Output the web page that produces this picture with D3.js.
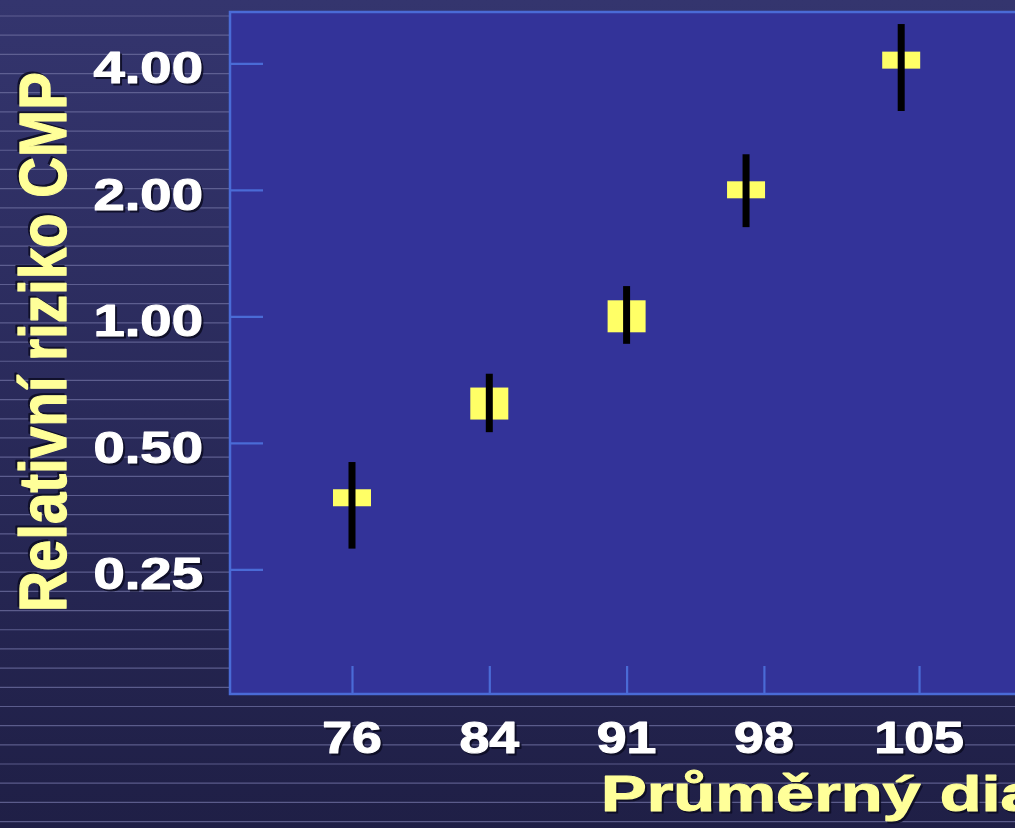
<!DOCTYPE html>
<html>
<head>
<meta charset="utf-8">
<script src="https://cdn.jsdelivr.net/npm/d3@7/dist/d3.min.js"></script>
<style>
  html, body { margin: 0; padding: 0; background: #26264f; overflow: hidden; }
  svg { display: block; }
  text { font-family: "Liberation Sans", Arial, sans-serif; font-weight: bold; }
</style>
</head>
<body>
<svg id="chart" width="1015" height="828"></svg>
<script>
// Waist-circumference groups (cm) and relative stroke risk with 95% CI
const categories = ["76", "84", "91", "98", "105"];
const tickSlot   = [0, 1, 2, 3, 4.13];      // axis slot of each group label
const pointSlot  = [0, 1, 2, 2.87, 4];      // axis slot of each estimate
const relRisk    = [0.37, 0.62, 1.00, 2.00, 4.07];
const ciLow      = [0.28, 0.53, 0.86, 1.63, 3.08];
const ciHigh     = [0.45, 0.73, 1.18, 2.43, 4.96];
const yTicks      = [0.25, 0.5, 1, 2, 4];
const yTickLabels = ["0.25", "0.50", "1.00", "2.00", "4.00"];
const largeGroup  = [false, true, true, false, false];

const W = 1015, H = 828;
const plot = { left: 230, top: 12, bottom: 694, right: W + 20 };
const svg = d3.select("#chart");

// slide background
const defs = svg.append("defs");
const grad = defs.append("linearGradient").attr("id", "bg")
  .attr("x1", 0).attr("y1", 0).attr("x2", 0).attr("y2", 1);
grad.append("stop").attr("offset", "0%").attr("stop-color", "#34356e");
grad.append("stop").attr("offset", "100%").attr("stop-color", "#1f1f46");
svg.append("rect").attr("width", W).attr("height", H).attr("fill", "url(#bg)");

svg.append("g").selectAll("line")
  .data(d3.range(16, H, 19.18))
  .join("line")
  .attr("x1", 0).attr("x2", W)
  .attr("y1", d => d).attr("y2", d => d)
  .attr("stroke", "#6a6b9c").attr("stroke-width", 1.2).attr("opacity", 0.8);

// scales
const x = d3.scaleLinear().domain([0, 4]).range([352, 901.2]);
const y = d3.scaleLog().base(2).domain([0.25, 4]).range([569.3, 63.3]);

// plot area
svg.append("rect")
  .attr("x", plot.left).attr("y", plot.top)
  .attr("width", plot.right - plot.left).attr("height", plot.bottom - plot.top)
  .attr("fill", "#333399").attr("stroke", "#4a6bd6").attr("stroke-width", 2.5);

const axisColor = "#4a6bd6";

// y axis ticks (inside)
const yAxisG = svg.append("g").attr("transform", `translate(${plot.left},0)`)
  .call(d3.axisLeft(y).tickValues(yTicks).tickSize(-33).tickFormat(""));
yAxisG.select(".domain").remove();
yAxisG.selectAll(".tick line").attr("stroke", axisColor).attr("stroke-width", 2.2);

// x axis ticks (inside)
const xAxisG = svg.append("g").attr("transform", `translate(0,${plot.bottom})`)
  .call(d3.axisBottom(x).tickValues(tickSlot).tickSize(-28).tickFormat(""));
xAxisG.select(".domain").remove();
xAxisG.selectAll(".tick line").attr("stroke", axisColor).attr("stroke-width", 2.2);

// heavy text with a soft drop shadow, stretched horizontally
function label(parent, opts) {
  const g = parent.append("g")
    .attr("transform", `translate(${opts.x},${opts.y}) scale(${opts.sx},1)` + (opts.rotate ? ` rotate(${opts.rotate})` : ""));
  const shadowDx = opts.rotate ? 2 : 2 / opts.sx;
  const shadowDy = opts.rotate ? -2 / opts.sx : 2;
  [["#0c0c22", shadowDx, shadowDy], [opts.fill, 0, 0]].forEach(([c, dx, dy]) => {
    g.append("text")
      .attr("x", dx).attr("y", dy)
      .attr("text-anchor", opts.anchor || "start")
      .attr("font-size", opts.size)
      .attr("fill", c)
      .attr("stroke", c)
      .attr("stroke-width", 1.1)
      .attr("stroke-linejoin", "round")
      .attr("opacity", c === opts.fill ? 1 : 0.85)
      .text(opts.text);
  });
}

// y tick labels
yTicks.forEach((v, i) => label(svg, {
  x: 203, y: y(v) + 20, sx: 1.28, text: yTickLabels[i], size: 44, fill: "#ffffff", anchor: "end"
}));

// x tick labels
categories.forEach((c, i) => label(svg, {
  x: x(tickSlot[i]), y: 753, sx: 1.22, text: c, size: 44, fill: "#ffffff", anchor: "middle"
}));

// axis titles
label(svg, { x: 66, y: 612, sx: 1.19, rotate: -90, text: "Relativní riziko CMP", size: 56.5, fill: "#ffff99" });
label(svg, { x: 601, y: 811, sx: 1.37, text: "Průměrný diametr pasu (cm)", size: 50, fill: "#ffff99" });

// point estimates
const pts = categories.map((c, i) => ({
  slot: pointSlot[i], rr: relRisk[i], lo: ciLow[i], hi: ciHigh[i], big: largeGroup[i]
}));

svg.append("g").selectAll("rect")
  .data(pts)
  .join("rect")
  .attr("x", d => x(d.slot) - 19)
  .attr("y", d => y(d.rr) - (d.big ? 16 : 8.5))
  .attr("width", 38)
  .attr("height", d => d.big ? 32 : 17)
  .attr("fill", "#ffff66");

// confidence intervals
svg.append("g").selectAll("line")
  .data(pts)
  .join("line")
  .attr("x1", d => x(d.slot)).attr("x2", d => x(d.slot))
  .attr("y1", d => y(d.hi)).attr("y2", d => y(d.lo))
  .attr("stroke", "#000000").attr("stroke-width", 7);
</script>
</body>
</html>
